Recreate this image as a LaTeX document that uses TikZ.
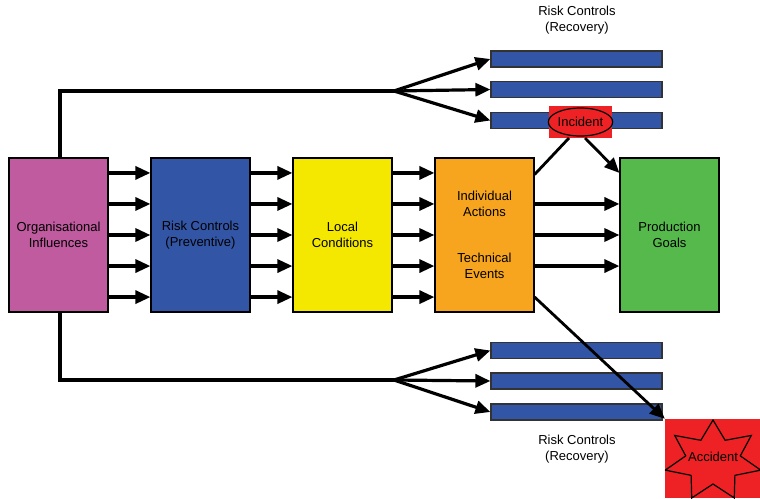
\documentclass[tikz,border=0pt]{standalone}
\usepackage{fontspec}
\setmainfont{Liberation Sans}
\usetikzlibrary{arrows.meta,calc,shapes.geometric}
\definecolor{cmag}{HTML}{BF5B9E}
\definecolor{cblue}{HTML}{3355A6}
\definecolor{cyel}{HTML}{F5E800}
\definecolor{corg}{HTML}{F7A51E}
\definecolor{cgrn}{HTML}{55B94B}
\definecolor{cred}{HTML}{EE2224}
\tikzset{
  box/.style={draw=black, line width=1.2pt, minimum width=99pt, minimum height=154pt, align=center, inner sep=0pt, font=\fontsize{13}{15.5}\selectfont},
  bar/.style={draw=black!80, line width=1.2pt, fill=cblue, minimum width=171pt, minimum height=16pt, inner sep=0pt},
  arr/.style={line width=3.2pt, -{Triangle[length=15pt,width=13pt]}},
  ln/.style={line width=3.2pt},
  lbl/.style={align=center, font=\fontsize{13}{16}\selectfont, inner sep=0pt}
}
\begin{document}
\begin{tikzpicture}[x=1pt,y=-1pt]
\useasboundingbox (0,0) rectangle (760,498);
% main boxes
\node[box, fill=cmag] (org) at (58.5,235) {Organisational\\Influences};
\node[box, fill=cblue] (rcp) at (200.5,235) {Risk Controls\\(Preventive)};
\node[box, fill=cyel] (loc) at (342.5,235) {Local\\Conditions};
\node[box, fill=corg] (ind) at (484.5,235) {Individual\\Actions\\[31pt]Technical\\Events};
\node[box, fill=cgrn] (prod) at (669.5,235) {Production\\Goals};
% arrows between boxes
\foreach \f in {0.1,0.3,0.5,0.7,0.9}{
  \draw[arr] ($(org.north east)!\f!(org.south east)$) -- ($(rcp.north west)!\f!(rcp.south west)$);
  \draw[arr] ($(rcp.north east)!\f!(rcp.south east)$) -- ($(loc.north west)!\f!(loc.south west)$);
  \draw[arr] ($(loc.north east)!\f!(loc.south east)$) -- ($(ind.north west)!\f!(ind.south west)$);
}
\foreach \f in {0.3,0.5,0.7}{
  \draw[arr] ($(ind.north east)!\f!(ind.south east)$) -- ($(prod.north west)!\f!(prod.south west)$);
}
% recovery bars
\node[bar] (t1) at (576.5,59) {};
\node[bar] (t2) at (576.5,89.5) {};
\node[bar] (t3) at (576.5,120.5) {};
\node[bar] (b1) at (576.5,350.5) {};
\node[bar] (b2) at (576.5,381) {};
\node[bar] (b3) at (576.5,412) {};
\node[lbl] (tl) at (577,20) {Risk Controls\\(Recovery)};
\node[lbl] (bl) at (577,449) {Risk Controls\\(Recovery)};
% top branch
\coordinate (tc) at (60,91);
\coordinate (tf) at (394,91);
\draw[ln] (org.north -| tc) -- (tc) -- (tf);
\draw[arr] (tf) -- (t1.west);
\draw[arr] (tf) -- (t2.west);
\draw[arr] (tf) -- (t3.west);
% bottom branch
\coordinate (bc) at (60,380);
\coordinate (bf) at (394,380);
\draw[ln] (org.south -| bc) -- (bc) -- (bf);
\draw[arr] (bf) -- (b1.west);
\draw[arr] (bf) -- (b2.west);
\draw[arr] (bf) -- (b3.west);
% incident
\node[fill=cred, minimum width=63pt, minimum height=32pt, inner sep=0pt] (inc) at (580.5,122) {};
\node[ellipse, draw=black, line width=1.2pt, fill=cred, minimum width=61pt, minimum height=28pt, inner sep=0pt, font=\fontsize{13}{15}\selectfont] (incell) at (580.5,122) {Incident};
\coordinate (ia) at (569,138);
\coordinate (ib) at (585,138);
\draw[ln, line width=2.8pt] ($(ind.north east)!0.11!(ind.south east)$) -- (ia);
\draw[arr, line width=2.8pt] (ib) -- ($(prod.north west)!0.1!(prod.south west)$);
% accident
\node[fill=cred, minimum width=95pt, minimum height=79pt, inner sep=0pt] (acc) at (712.5,458.5) {};
\begin{scope}
\clip (acc.north west) rectangle (acc.south east);
\draw[fill=cred, line width=1.2pt, line join=miter]
  plot[samples at={0,...,13}]
  ({713+(mod(\x,2)==0 ? 49 : 28)*cos(90+\x*360/14)},
   {461-(mod(\x,2)==0 ? 41 : 23)*sin(90+\x*360/14)}) -- cycle;
\end{scope}
\node[font=\fontsize{13}{15}\selectfont, inner sep=0pt] (acct) at (713,457) {Accident};
\draw[arr, line width=2.8pt] ($(ind.north east)!0.9!(ind.south east)$) -- (acc.north west);
\end{tikzpicture}
\end{document}
